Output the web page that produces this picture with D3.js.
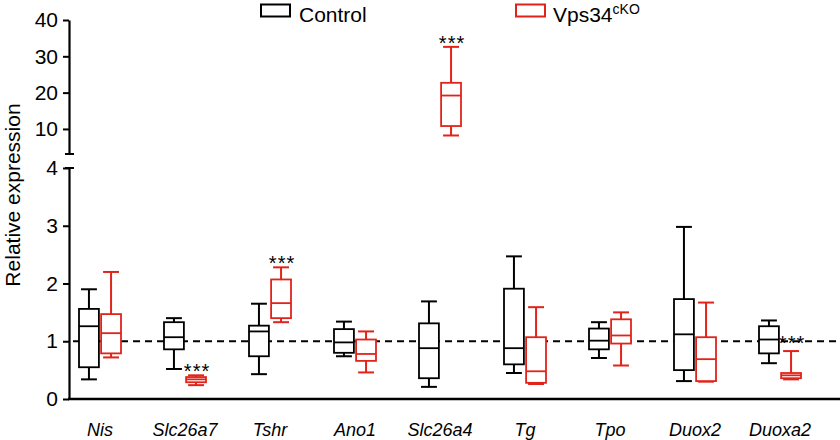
<!DOCTYPE html>
<html><head><meta charset="utf-8">
<script src="https://cdn.jsdelivr.net/npm/d3@7"></script>
<style>
body{margin:0;background:#fff;}
svg{font-family:"Liberation Sans",Arial,Helvetica,sans-serif;}
</style></head>
<body><svg id="c" width="840" height="440"></svg>
<script>
// ---- data ----
const genes = ["Nis","Slc26a7","Tshr","Ano1","Slc26a4","Tg","Tpo","Duox2","Duoxa2"];
const groups = ["Control","Vps34cKO"];
// [whisker low, Q1, median, Q3, whisker high]
const controlStats = [
  [0.34,0.55,1.26,1.56,1.90],
  [0.52,0.86,1.07,1.33,1.40],
  [0.43,0.74,1.17,1.27,1.65],
  [0.74,0.80,0.98,1.21,1.34],
  [0.21,0.36,0.88,1.31,1.69],
  [0.45,0.60,0.88,1.91,2.47],
  [0.71,0.86,1.01,1.22,1.33],
  [0.31,0.50,1.12,1.73,2.98],
  [0.62,0.79,1.03,1.26,1.36]
];
const koStats = [
  [0.72,0.79,1.14,1.47,2.20],
  [0.24,0.29,0.34,0.38,0.41],
  [1.33,1.40,1.66,2.07,2.28],
  [0.46,0.66,0.78,1.03,1.17],
  [8.2,10.8,19.2,22.7,32.6],
  [0.26,0.28,0.48,1.07,1.59],
  [0.58,0.96,1.10,1.38,1.50],
  [0.30,0.31,0.69,1.07,1.67],
  [0.34,0.36,0.41,0.45,0.83]
];
const koSignificant = [false,true,true,false,true,false,false,false,true];
const lowerTicks = [0,1,2,3,4];
const upperTicks = [10,20,30,40];
const referenceLevel = 1;
const colors = {"Control":"#000000","Vps34cKO":"#e2231a"};

// ---- layout ----
const svg = d3.select("#c");
const axisX = 69, rightX = 840;
const yLow = d3.scaleLinear().domain([0,4]).range([399,168]);
const yHigh = d3.scaleLinear().domain([3.1,40]).range([154,20]);
const x = d3.scaleBand().domain(genes).range([57.5,822.5]).padding(0);
const xi = d3.scaleBand().domain(groups).range([-21,21]).paddingInner(0.1);
const yFor = s => (s[4] > 4 ? yHigh : yLow);

// axes
const gLow = svg.append("g").attr("transform",`translate(${axisX},0)`)
  .call(d3.axisLeft(yLow).tickValues(lowerTicks).tickSize(6).tickSizeOuter(0).tickPadding(5).tickFormat(d3.format("d")));
const gHigh = svg.append("g").attr("transform",`translate(${axisX},0)`)
  .call(d3.axisLeft(yHigh).tickValues(upperTicks).tickSize(6).tickSizeOuter(0).tickPadding(5).tickFormat(d3.format("d")));
[gLow,gHigh].forEach(g=>{
  g.select(".domain").attr("stroke","#000").attr("stroke-width",2.2);
  g.selectAll(".tick line").attr("stroke","#000").attr("stroke-width",2);
  g.selectAll(".tick text").attr("font-size",21).attr("fill","#000")
   .attr("font-family","'Liberation Sans',Arial,sans-serif");
});
// break caps
[yHigh.range()[0], yLow.range()[1]].forEach(yy=>{
  svg.append("line").attr("x1",axisX-4).attr("x2",axisX+5).attr("y1",yy).attr("y2",yy)
    .attr("stroke","#000").attr("stroke-width",2);
});

// x axis
svg.append("line").attr("x1",axisX-1).attr("x2",rightX).attr("y1",yLow(0)).attr("y2",yLow(0))
  .attr("stroke","#000").attr("stroke-width",2.4);
const gx = svg.append("g").attr("transform",`translate(0,${yLow(0)})`)
  .call(d3.axisBottom(x).tickSize(0).tickPadding(0));
gx.select(".domain").remove();
gx.selectAll(".tick text").attr("font-size",18).attr("font-style","italic").attr("fill","#000")
  .attr("dy",null).attr("y",37).attr("font-family","'Liberation Sans',Arial,sans-serif");

// reference dashed line
svg.append("line").attr("x1",axisX+4).attr("x2",rightX).attr("y1",yLow(referenceLevel)).attr("y2",yLow(referenceLevel))
  .attr("stroke","#000").attr("stroke-width",2).attr("stroke-dasharray","7,5");

// boxes
function drawBox(gene, group, s){
  const y = yFor(s);
  const cx = x(gene) + x.bandwidth()/2 + xi(group) + xi.bandwidth()/2;
  const w = xi.bandwidth();
  const cap = w*0.4;
  const col = colors[group];
  const g = svg.append("g");
  g.append("line").attr("x1",cx).attr("x2",cx).attr("y1",y(s[3])).attr("y2",y(s[4])).attr("stroke",col).attr("stroke-width",2);
  g.append("line").attr("x1",cx).attr("x2",cx).attr("y1",y(s[1])).attr("y2",y(s[0])).attr("stroke",col).attr("stroke-width",2);
  g.append("line").attr("x1",cx-cap).attr("x2",cx+cap).attr("y1",y(s[4])).attr("y2",y(s[4])).attr("stroke",col).attr("stroke-width",2);
  g.append("line").attr("x1",cx-cap).attr("x2",cx+cap).attr("y1",y(s[0])).attr("y2",y(s[0])).attr("stroke",col).attr("stroke-width",2);
  g.append("rect").attr("x",cx-w/2).attr("y",y(s[3])).attr("width",w).attr("height",Math.max(1,y(s[1])-y(s[3])))
    .attr("fill","#fff").attr("stroke",col).attr("stroke-width",1.8);
  g.append("line").attr("x1",cx-w/2).attr("x2",cx+w/2).attr("y1",y(s[2])).attr("y2",y(s[2])).attr("stroke",col).attr("stroke-width",1.8);
  return {cx, top:y(s[4])};
}
genes.forEach((gName,i)=>{
  drawBox(gName,"Control",controlStats[i]);
  const r = drawBox(gName,"Vps34cKO",koStats[i]);
  if(koSignificant[i]){
    svg.append("text").attr("x",r.cx+1).attr("y",r.top+ (i===8?-1:3)).attr("text-anchor","middle")
      .attr("font-size",20).attr("letter-spacing",1).attr("fill","#000").text("***");
  }
});

// legend
const legend = [
  {g:"Control", rx:261},
  {g:"Vps34cKO", rx:516}
];
legend.forEach(l=>{
  svg.append("rect").attr("x",l.rx).attr("y",4.5).attr("width",29).attr("height",12)
    .attr("fill","#fff").attr("stroke",colors[l.g]).attr("stroke-width",2);
});
svg.append("text").attr("x",299).attr("y",22).attr("font-size",21).attr("fill","#000").text("Control");
const t2 = svg.append("text").attr("x",553).attr("y",22).attr("font-size",21).attr("fill","#000");
t2.append("tspan").text("Vps34");
t2.append("tspan").attr("font-size",14).attr("dy",-8).text("cKO");

// y title
svg.append("text").attr("transform","translate(20,195) rotate(-90)").attr("text-anchor","middle")
  .attr("font-size",21).attr("fill","#000").text("Relative expression");
</script></body></html>
